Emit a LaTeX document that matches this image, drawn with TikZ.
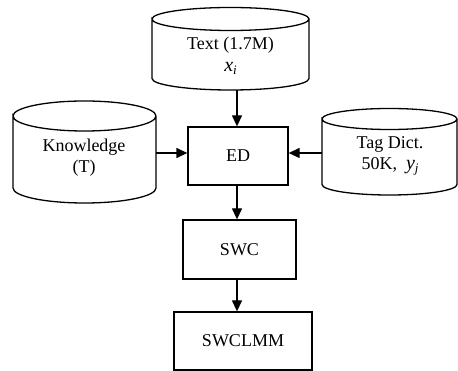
\documentclass[tikz,border=0pt]{standalone}
\usepackage{fontspec}
\setmainfont{Liberation Serif}
\usetikzlibrary{arrows.meta}
\tikzset{
  line/.style={line width=1.3pt},
  box/.style={draw, line width=1.3pt, inner sep=0pt, font=\fontsize{18}{22}\selectfont},
  label/.style={inner sep=0pt, align=center, font=\fontsize{18}{22}\selectfont},
  flow/.style={line width=1.3pt, -{Triangle[length=11pt,width=10pt]}},
}
% cylinder: centre x, left x, right x, top-ellipse y, bottom-ellipse y, radius y
\newcommand{\dbcyl}[6]{%
  \draw[line] (#2,#4) arc[start angle=180,end angle=540,x radius={(#3-#2)/2},y radius=#6]
    -- (#2,#5) arc[start angle=180,end angle=0,x radius={(#3-#2)/2},y radius=#6]
    -- (#3,#4);
}
\newcommand{\sub}[1]{\raisebox{-0.4ex}{\fontsize{13}{13}\selectfont\itshape #1}}
\begin{document}
\begin{tikzpicture}[x=1pt,y=-1pt]
  \useasboundingbox (0,0) rectangle (458,371);

  % data sources
  \dbcyl{230.5}{152}{309}{19}{78.5}{11.5}
  \node[label] (text) at (230.5,56) {Text (1.7M)\\[0pt]{\fontsize{20}{20}\selectfont\itshape x}\sub{i}};
  \coordinate (textbot) at (237,90);

  \dbcyl{84.5}{13}{156}{116}{188}{15}
  \node[label] (know) at (84,158) {Knowledge\\[-1pt](T)};
  \coordinate (knowout) at (156,153);

  \dbcyl{389.5}{322}{457}{119}{184.5}{10.5}
  \node[label] (tag) at (390,156) {Tag Dict.\\[-1pt]50K,\hspace{0.5em}{\fontsize{20}{20}\selectfont\itshape y}\sub{j}};
  \coordinate (tagout) at (322,153);

  % processing steps
  \node[box, minimum width=100pt, minimum height=58pt] (ed) at (238,156) {ED};
  \node[box, minimum width=113pt, minimum height=59pt] (swc) at (239.5,249.5) {SWC};
  \node[box, minimum width=138pt, minimum height=58pt] (lmm) at (243,341) {SWCLMM};

  % connectors
  \draw[flow] (textbot) -- (textbot |- ed.north);
  \draw[flow] (knowout) -- (ed.west |- knowout);
  \draw[flow] (tagout) -- (ed.east |- tagout);
  \draw[flow] (ed.south -| 237,0) -- (swc.north -| 237,0);
  \draw[flow] (swc.south -| 237,0) -- (lmm.north -| 237,0);
\end{tikzpicture}
\end{document}
